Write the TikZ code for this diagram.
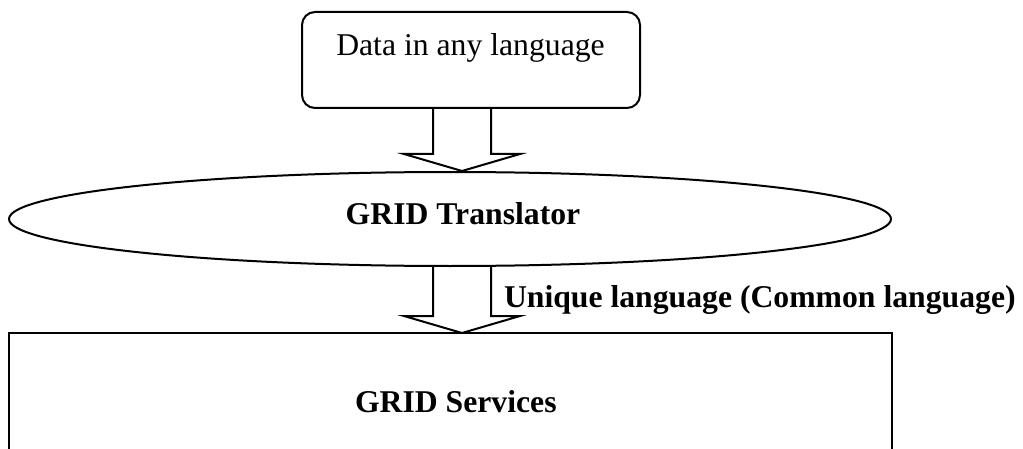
\documentclass[tikz,border=0pt]{standalone}
\usepackage{fontspec}
\setmainfont{Liberation Serif}
\usetikzlibrary{shapes.geometric,calc}

% Hollow block arrow: #1 = middle of the shaft's open top, #2 = tip
\newcommand\hollowarrow[2]{%
  \draw[blockarrow] ($(#1)+(-29,0)$) |- ($(#2)+(-58,-17)$) -- (#2)
    -- ($(#2)+(58,-17)$) -| ($(#1)+(29,0)$);}

\begin{document}
\begin{tikzpicture}[x=0.5pt,y=-0.5pt,line width=1pt,
  every node/.style={font=\fontsize{15.85}{19}\selectfont},
  plain/.style={inner sep=0pt},
  boldtext/.style={inner sep=0pt,font=\fontsize{15.85}{19}\selectfont\bfseries},
  databox/.style={draw,rounded corners=6.5pt,minimum width=169pt,
    minimum height=48pt,inner sep=0pt},
  oval/.style={draw,ellipse,minimum width=441pt,minimum height=47pt,
    inner sep=0pt},
  servicearea/.style={draw=none,minimum width=440.5pt,minimum height=66pt,
    inner sep=0pt},
  blockarrow/.style={draw,line join=miter}]
  \clip (0,0) rectangle (1023,449);

  % shapes
  \node[databox] (data) at (471,60) {};
  \node[oval] (translator) at (450,219) {};
  \node[servicearea] (services) at (450.5,400) {};
  \draw (services.south west) -- (services.north west)
        -- (services.north east) -- (services.south east);

  % texts
  \node[plain,anchor=base] at ($(data.north)+(-0.5,45)$) {Data in any language};
  \node[boldtext,anchor=base] at (463,224) {GRID Translator};
  \node[boldtext,anchor=base west] at (354,412) {GRID Services};
  \node[boldtext,anchor=base west] at (503,307) {Unique language (Common language)};

  % hollow arrows on a common axis
  \coordinate (axis) at (462,0);
  \hollowarrow{data.south -| axis}{translator.north -| axis}
  \hollowarrow{translator.south -| axis}{services.north -| axis}
\end{tikzpicture}
\end{document}
